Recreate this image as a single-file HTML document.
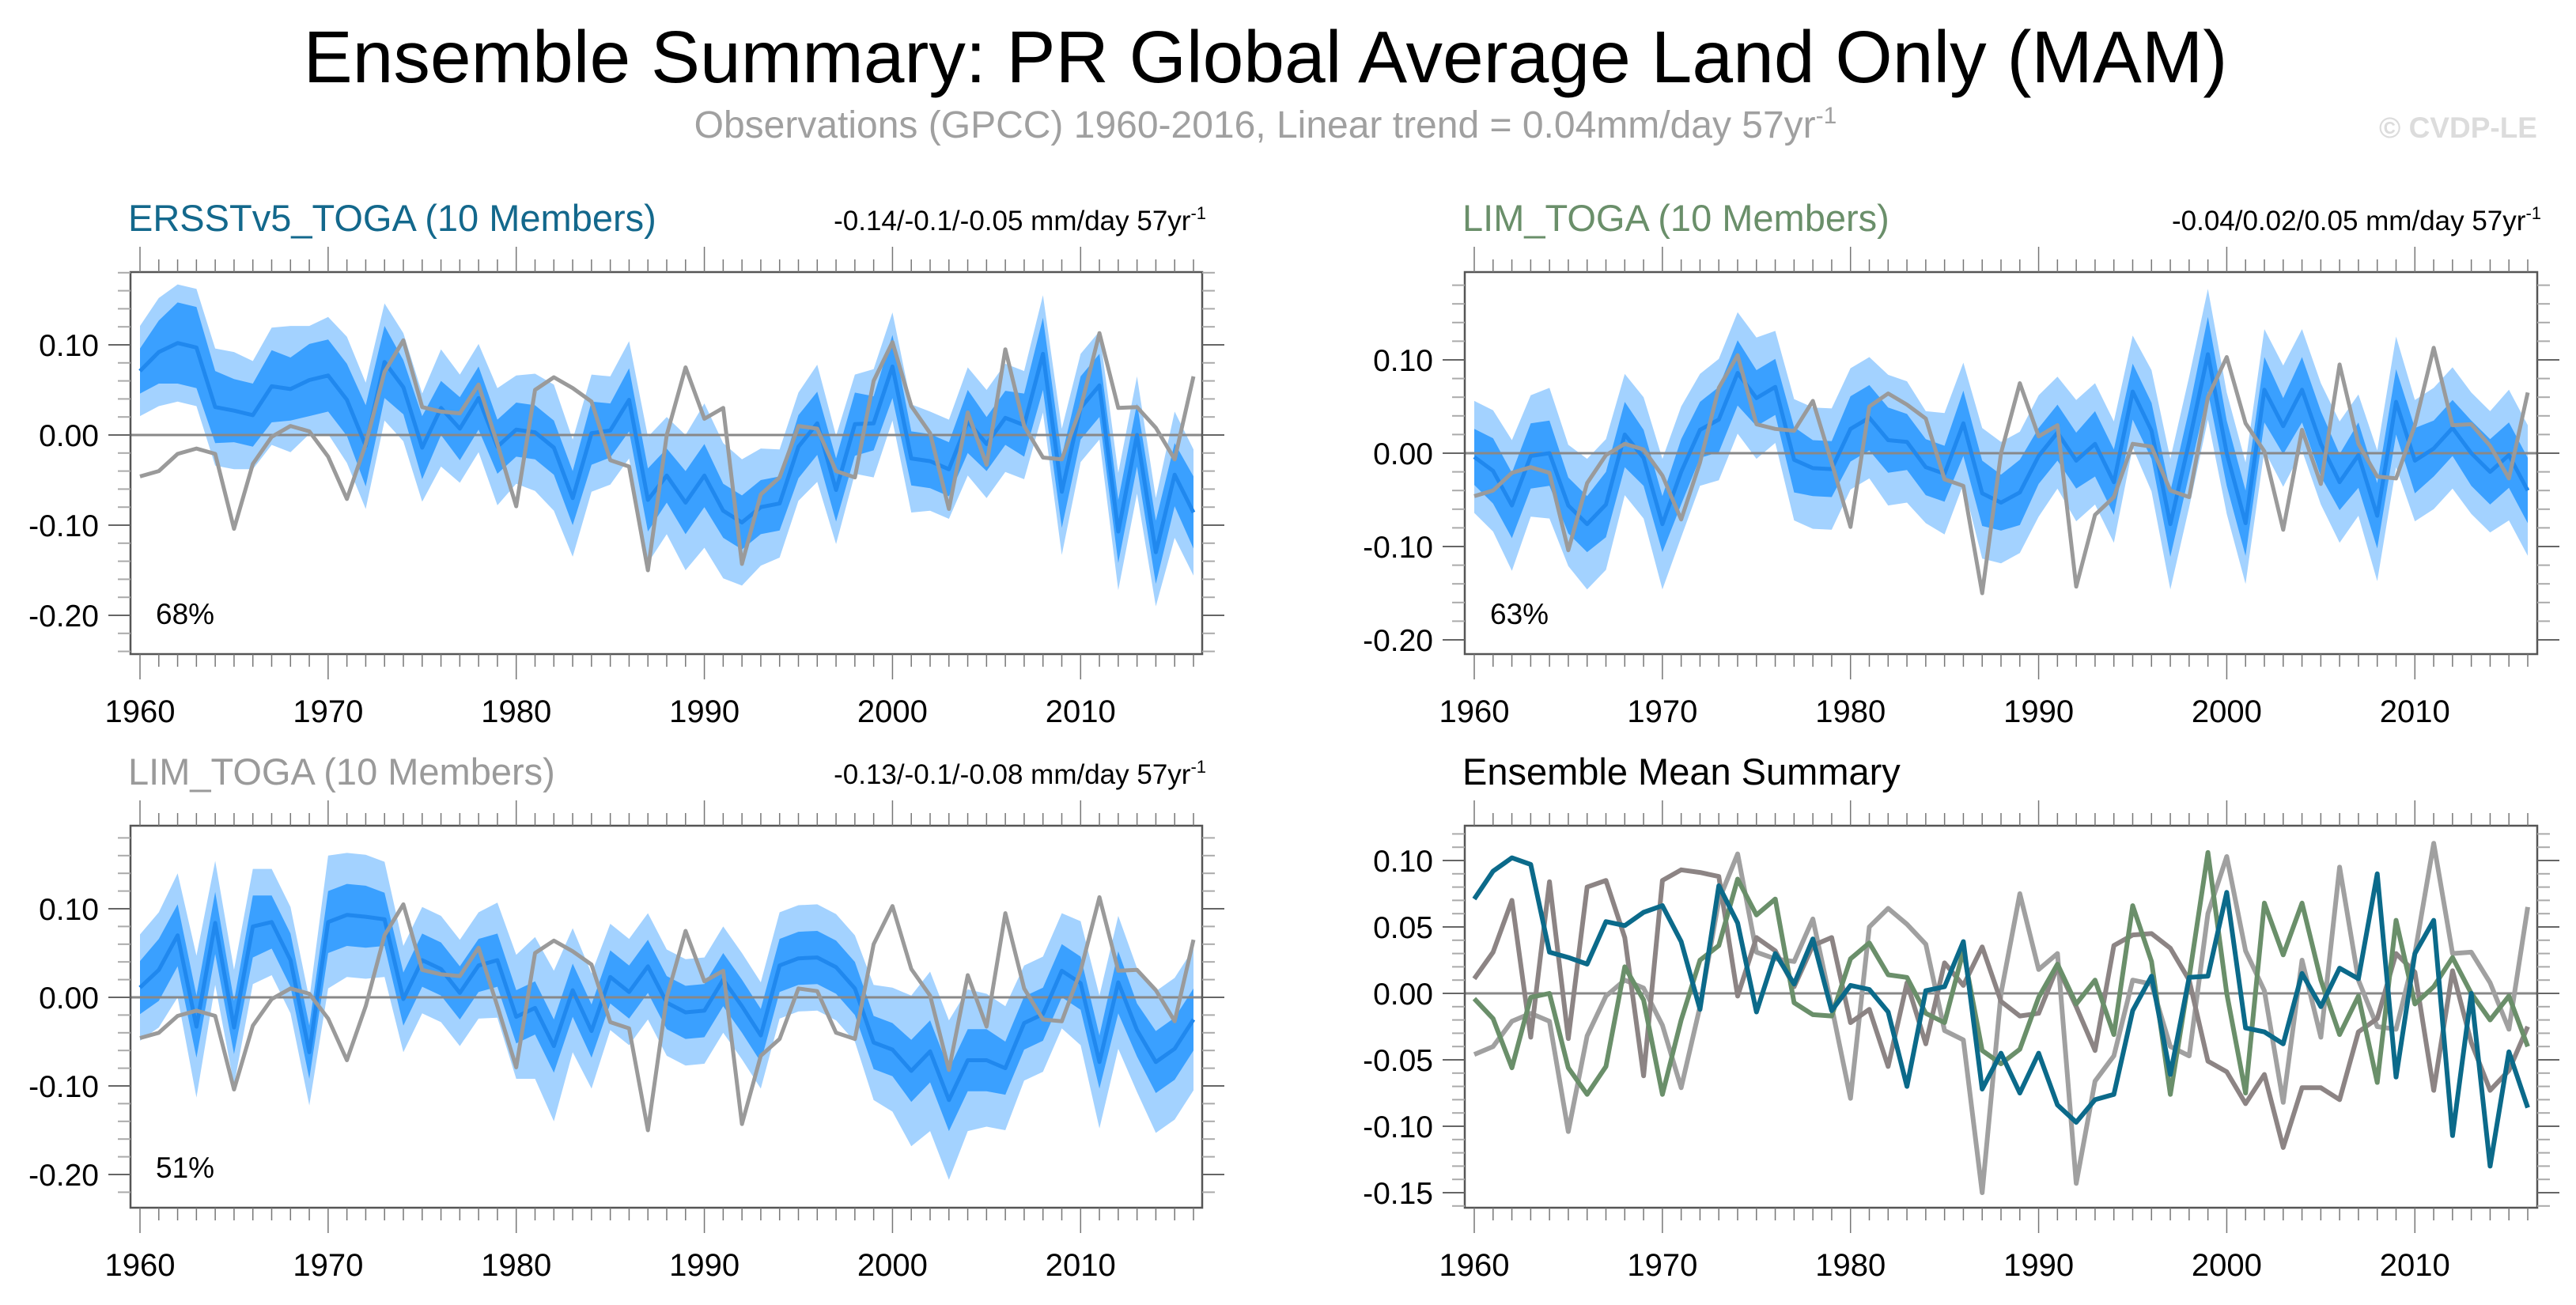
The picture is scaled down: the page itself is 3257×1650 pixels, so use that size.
<!DOCTYPE html>
<html><head><meta charset="utf-8"><style>
html,body{margin:0;padding:0;background:#fff;}
svg{display:block;font-family:"Liberation Sans",sans-serif;}
</style></head><body>
<svg id="chart" width="3257" height="1650" viewBox="0 0 3257 1650">
<text x="1600" y="104" font-size="93" text-anchor="middle" fill="#000">Ensemble Summary: PR Global Average Land Only (MAM)</text>
<text x="1600" y="174" font-size="48" text-anchor="middle" fill="#a0a0a0">Observations (GPCC) 1960-2016, Linear trend = 0.04mm/day 57yr<tspan font-size="30" dy="-18">-1</tspan></text>
<text x="3208" y="174" font-size="37" font-weight="bold" text-anchor="end" fill="#dcdcdc">© CVDP-LE</text>
</svg>
<script>
const years=[];for(let y=1960;y<=2016;y++)years.push(y);
const obs=[-0.046,-0.040,-0.021,-0.015,-0.021,-0.104,-0.032,-0.002,0.010,0.004,-0.024,-0.071,-0.010,0.070,0.105,0.031,0.026,0.024,0.056,-0.010,-0.079,0.050,0.064,0.052,0.037,-0.028,-0.035,-0.150,0.000,0.075,0.018,0.030,-0.143,-0.066,-0.047,0.010,0.007,-0.040,-0.047,0.060,0.103,0.032,0.002,-0.082,0.025,-0.033,0.095,0.010,-0.025,-0.027,0.030,0.113,0.030,0.031,0.008,-0.027,0.065];
const ersst=[0.071,0.092,0.102,0.097,0.031,0.027,0.022,0.054,0.051,0.061,0.066,0.039,-0.012,0.081,0.053,-0.014,0.030,0.007,0.041,-0.013,0.006,0.003,-0.014,-0.070,0.002,0.005,0.039,-0.072,-0.045,-0.075,-0.045,-0.084,-0.097,-0.080,-0.076,-0.013,0.013,-0.061,0.012,0.013,0.076,-0.026,-0.029,-0.038,0.015,-0.010,0.019,0.011,0.090,-0.063,0.030,0.055,-0.107,0.000,-0.130,-0.044,-0.086];
const limA=[-0.004,-0.019,-0.056,-0.003,0.000,-0.056,-0.076,-0.055,0.020,-0.005,-0.076,-0.020,0.025,0.036,0.086,0.059,0.071,-0.007,-0.016,-0.017,0.026,0.038,0.014,0.012,-0.015,-0.022,0.032,-0.043,-0.053,-0.042,-0.003,0.022,-0.008,0.010,-0.031,0.066,0.024,-0.076,0.012,0.106,0.000,-0.075,0.068,0.029,0.068,0.010,-0.031,-0.002,-0.067,0.055,-0.008,0.005,0.027,0.000,-0.020,-0.002,-0.040];
const limB=[0.011,0.031,0.070,-0.033,0.084,-0.034,0.080,0.085,0.042,-0.062,0.085,0.093,0.091,0.088,-0.002,0.042,0.032,0.005,0.036,0.042,-0.022,-0.012,-0.055,0.008,-0.038,0.023,0.006,0.035,-0.006,-0.017,-0.015,0.020,-0.010,-0.043,0.036,0.044,0.045,0.034,0.010,-0.051,-0.059,-0.083,-0.061,-0.116,-0.071,-0.071,-0.080,-0.029,-0.019,0.030,0.016,-0.073,0.017,-0.037,-0.073,-0.058,-0.025];
const inner1=[0.025,0.035,0.045,0.045,0.040,0.035,0.035,0.040,0.035,0.040,0.040,0.040,0.045,0.040,0.030,0.035,0.030,0.035,0.035,0.030,0.030,0.030,0.030,0.030,0.035,0.030,0.035,0.035,0.030,0.035,0.035,0.030,0.030,0.030,0.030,0.035,0.035,0.035,0.035,0.030,0.035,0.030,0.030,0.030,0.035,0.030,0.030,0.035,0.040,0.040,0.035,0.035,0.035,0.035,0.035,0.035,0.040];
const outer1=[0.050,0.060,0.065,0.065,0.065,0.065,0.060,0.065,0.070,0.060,0.065,0.070,0.070,0.065,0.060,0.060,0.065,0.060,0.060,0.065,0.060,0.065,0.070,0.065,0.065,0.060,0.065,0.070,0.065,0.075,0.080,0.075,0.070,0.065,0.060,0.060,0.065,0.060,0.055,0.060,0.060,0.060,0.055,0.055,0.060,0.060,0.060,0.060,0.065,0.070,0.060,0.060,0.065,0.065,0.060,0.070,0.070];
const inner2=[0.030,0.035,0.035,0.035,0.035,0.030,0.030,0.035,0.035,0.030,0.030,0.035,0.030,0.035,0.035,0.030,0.030,0.035,0.030,0.030,0.035,0.035,0.035,0.030,0.030,0.030,0.035,0.035,0.030,0.035,0.030,0.030,0.030,0.035,0.035,0.030,0.030,0.035,0.035,0.040,0.035,0.035,0.035,0.030,0.035,0.035,0.030,0.035,0.035,0.035,0.035,0.030,0.030,0.035,0.035,0.035,0.035];
const outer2=[0.060,0.065,0.070,0.065,0.070,0.065,0.070,0.070,0.065,0.065,0.070,0.070,0.060,0.065,0.065,0.065,0.060,0.065,0.065,0.065,0.065,0.065,0.070,0.065,0.060,0.065,0.065,0.070,0.065,0.065,0.065,0.060,0.065,0.065,0.065,0.060,0.065,0.070,0.070,0.070,0.065,0.065,0.065,0.065,0.065,0.065,0.065,0.065,0.070,0.070,0.065,0.065,0.065,0.065,0.065,0.070,0.070];
const inner3=[0.030,0.035,0.035,0.035,0.035,0.030,0.035,0.030,0.030,0.030,0.035,0.035,0.035,0.030,0.030,0.030,0.030,0.030,0.030,0.030,0.030,0.030,0.030,0.030,0.030,0.030,0.030,0.030,0.030,0.030,0.030,0.030,0.030,0.030,0.030,0.030,0.030,0.030,0.030,0.030,0.030,0.035,0.035,0.035,0.035,0.035,0.030,0.030,0.030,0.030,0.030,0.030,0.035,0.030,0.035,0.035,0.035];
const outer3=[0.060,0.065,0.070,0.080,0.070,0.065,0.065,0.060,0.060,0.060,0.075,0.070,0.070,0.065,0.060,0.060,0.060,0.060,0.060,0.065,0.070,0.080,0.085,0.070,0.065,0.060,0.060,0.060,0.060,0.060,0.060,0.060,0.060,0.060,0.060,0.060,0.060,0.060,0.060,0.065,0.070,0.085,0.090,0.090,0.080,0.075,0.070,0.065,0.065,0.065,0.070,0.075,0.075,0.070,0.080,0.080,0.080];
const panel1Ticks=[0.10,0.00,-0.10,-0.20];
const panel4Ticks=[0.10,0.05,0.00,-0.05,-0.10,-0.15];
const xTickLabels=[1960,1970,1980,1990,2000,2010];

const NS="http://www.w3.org/2000/svg";
const svg=document.getElementById('chart');
function mk(tag,attrs,parent){const e=document.createElementNS(NS,tag);for(const k in attrs)e.setAttribute(k,attrs[k]);(parent||svg).appendChild(e);return e;}

function panel(cfg){
  const g=mk('g',{});
  
  
  const xs=v=>cfg.x0+(v-1960)/56*(cfg.x1-cfg.x0);
  const ys=v=>cfg.yz-v*cfg.ppu;
  const L=cfg.bl,R=cfg.br,T=cfg.bt,B=cfg.bb;
  if(cfg.mean&&cfg.outer){
    [[cfg.outer,'#a3d2ff','outer-spread-band'],[cfg.inner,'#3aa0ff','inner-spread-band']].forEach(([w,col,nm])=>{
      let d='';
      years.forEach((y,i)=>{d+=(i?'L':'M')+xs(y).toFixed(1)+','+ys(cfg.mean[i]+w[i]).toFixed(1);});
      for(let i=years.length-1;i>=0;i--)d+='L'+xs(years[i]).toFixed(1)+','+ys(cfg.mean[i]-w[i]).toFixed(1);
      const p=mk('path',{d:d+'Z',fill:col},g);
      
      
    });
  }
  const zl=mk('line',{x1:L,x2:R,y1:ys(0),y2:ys(0),stroke:'#888',"stroke-width":3},g);
  
  
  cfg.lines.forEach(s=>{
    const d=years.map((y,i)=>(i?'L':'M')+xs(y).toFixed(1)+','+ys(s.data[i]).toFixed(1)).join('');
    const p=mk('path',{d:d,fill:'none',stroke:s.color,"stroke-width":s.w,"stroke-linejoin":'round'},g);
    
    
  });
  const box=mk('rect',{x:L,y:T,width:R-L,height:B-T,fill:'none',stroke:'#555',"stroke-width":2.5},g);
  
  
  years.forEach(y=>{
    const maj=y%10===0, len=maj?32:16;
    mk('line',{x1:xs(y),x2:xs(y),y1:B,y2:B+len,stroke:'#777',"stroke-width":1.5},g);
    mk('line',{x1:xs(y),x2:xs(y),y1:T,y2:T-len,stroke:'#777',"stroke-width":1.5},g);
  });
  xTickLabels.forEach(y=>{
    const t=mk('text',{x:xs(y),y:B+86,"font-size":40,"text-anchor":'middle',fill:'#000'},g);
    t.textContent=y;
    
    
  });
  const lo=(cfg.yz-B)/cfg.ppu, hi=(cfg.yz-T)/cfg.ppu;
  for(let v=Math.ceil(lo/cfg.minor-1e-6)*cfg.minor; v<=hi+1e-9; v+=cfg.minor){
    const yy=ys(v); if(yy<T-1||yy>B+1)continue;
    const maj=cfg.ticks.some(t=>Math.abs(t-v)<1e-6);
    const len=maj?28:16, col=maj?'#666':'#aaa';
    mk('line',{x1:L-len,x2:L,y1:yy,y2:yy,stroke:col,"stroke-width":2},g);
    mk('line',{x1:R,x2:R+len,y1:yy,y2:yy,stroke:col,"stroke-width":2},g);
  }
  cfg.ticks.forEach(v=>{
    const t=mk('text',{x:L-40,y:ys(v)+14,"font-size":39,"text-anchor":'end',fill:'#000'},g);
    t.textContent=v.toFixed(2);
    
    
  });
  const tt=mk('text',{x:L-3,y:T-52,"font-size":47,fill:cfg.tcolor},g);
  tt.textContent=cfg.title;
  
  
  if(cfg.trend){
    const tr=mk('text',{x:R+5,y:T-53,"font-size":35,"text-anchor":'end',fill:'#000'},g);
    tr.innerHTML=cfg.trend+' mm/day 57yr<tspan font-size="22" dy="-14">-1</tspan>';
    
    
  }
  if(cfg.pct){
    const pc=mk('text',{x:L+32,y:B-38,"font-size":37,fill:'#000'},g);
    pc.textContent=cfg.pct;
    
    
  }
}
const obsLine={data:obs,color:'#9a9a9a',w:5,name:'observations-line'};
panel({name:'panel-ersstv5-toga',bl:165,br:1520,bt:344,bb:827,x0:177,x1:1509,yz:550,ppu:1140,minor:0.02,ticks:panel1Ticks,
  mean:ersst,inner:inner1,outer:outer1,title:'ERSSTv5_TOGA (10 Members)',tcolor:'#13688c',trend:'-0.14/-0.1/-0.05',pct:'68%',
  lines:[{data:ersst,color:'#2088ee',w:5,name:'ensemble-mean-line'},obsLine]});
panel({name:'panel-lim-toga-a',bl:1852,br:3208,bt:344,bb:827,x0:1864,x1:3196,yz:573,ppu:1180,minor:0.02,ticks:panel1Ticks,
  mean:limA,inner:inner2,outer:outer2,title:'LIM_TOGA (10 Members)',tcolor:'#6a8f6a',trend:'-0.04/0.02/0.05',pct:'63%',
  lines:[{data:limA,color:'#2088ee',w:5,name:'ensemble-mean-line'},obsLine]});
panel({name:'panel-lim-toga-b',bl:165,br:1520,bt:1044,bb:1527,x0:177,x1:1509,yz:1261,ppu:1120,minor:0.02,ticks:panel1Ticks,
  mean:limB,inner:inner3,outer:outer3,title:'LIM_TOGA (10 Members)',tcolor:'#9a9a9a',trend:'-0.13/-0.1/-0.08',pct:'51%',
  lines:[{data:limB,color:'#2088ee',w:5,name:'ensemble-mean-line'},obsLine]});
panel({name:'panel-ensemble-mean-summary',bl:1852,br:3208,bt:1044,bb:1527,x0:1864,x1:3196,yz:1256,ppu:1680,minor:0.01,ticks:panel4Ticks,
  title:'Ensemble Mean Summary',tcolor:'#000',
  lines:[{data:obs,color:'#a0a0a0',w:6,name:'observations-line'},
         {data:limB,color:'#8c8484',w:6,name:'lim-toga-b-mean-line'},
         {data:limA,color:'#6a8f6a',w:6,name:'lim-toga-a-mean-line'},
         {data:ersst,color:'#0b6a8a',w:6,name:'ersstv5-toga-mean-line'}]});
</script>
</body></html>
